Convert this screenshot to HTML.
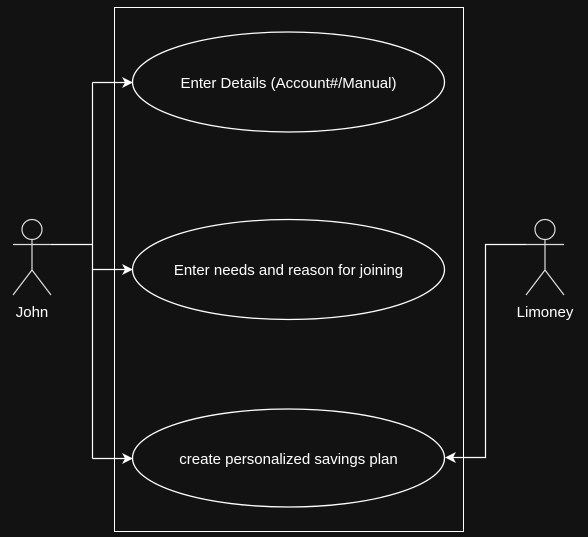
<!DOCTYPE html>
<html><head><meta charset="utf-8"><style>
html,body{margin:0;padding:0;background:#121212;}
svg{display:block;}
text{font-family:"Liberation Sans",Arial,sans-serif;font-size:15px;fill:#fff;}
</style></head><body>
<svg width="588" height="537" viewBox="0 0 588 537" xmlns="http://www.w3.org/2000/svg">
<rect x="0" y="0" width="588" height="537" fill="#121212"/>
<rect x="114.5" y="7.5" width="349" height="524" fill="none" stroke="#fff" stroke-width="1"/>
<g fill="none" stroke="#fff" stroke-width="1.3">
<ellipse cx="288.5" cy="82" rx="156" ry="50"/>
<ellipse cx="288.5" cy="269.5" rx="156" ry="50"/>
<ellipse cx="288.5" cy="458" rx="156" ry="49"/>
</g>
<text x="288.5" y="88" text-anchor="middle">Enter Details (Account#/Manual)</text>
<text x="288.5" y="275" text-anchor="middle">Enter needs and reason for joining</text>
<text x="288.5" y="464" text-anchor="middle">create personalized savings plan</text>
<g fill="none" stroke="#ddd" stroke-width="1.2">
<circle cx="32" cy="229.5" r="10"/>
<line x1="13" y1="244.5" x2="51" y2="244.5"/>
<line x1="32" y1="239.5" x2="32" y2="270"/>
<line x1="32" y1="270" x2="13" y2="295"/>
<line x1="32" y1="270" x2="51" y2="295"/>
<circle cx="545" cy="229.5" r="10"/>
<line x1="526" y1="244.5" x2="564" y2="244.5"/>
<line x1="545" y1="239.5" x2="545" y2="270"/>
<line x1="545" y1="270" x2="526" y2="295"/>
<line x1="545" y1="270" x2="564" y2="295"/>
</g>
<text x="32" y="317" text-anchor="middle">John</text>
<text x="545" y="317" text-anchor="middle">Limoney</text>
<g fill="none" stroke="#fff" stroke-width="1.2">
<polyline points="51,244.5 92.5,244.5"/>
<polyline points="92.5,82.5 92.5,458.5"/>
<line x1="92.5" y1="82.5" x2="126" y2="82.5"/>
<line x1="92.5" y1="269.5" x2="126" y2="269.5"/>
<line x1="92.5" y1="458.5" x2="126" y2="458.5"/>
<polyline points="526,244.5 485.5,244.5 485.5,457.5 452,457.5"/>
</g>
<g fill="#fff">
<polygon points="133,82.5 122,77 125,82.5 122,88"/>
<polygon points="133,269.5 122,264 125,269.5 122,275"/>
<polygon points="133,458.5 122,453 125,458.5 122,464"/>
<polygon points="445,457.5 456,452 453,457.5 456,463"/>
</g>
</svg>
</body></html>
